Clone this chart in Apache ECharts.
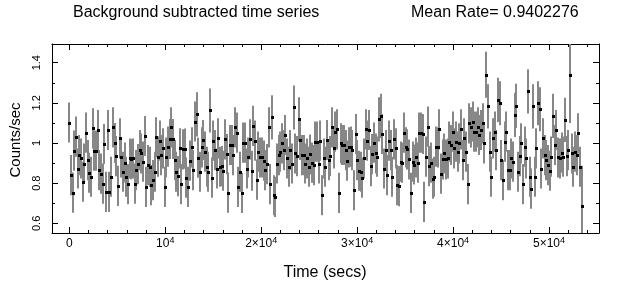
<!DOCTYPE html>
<html><head><meta charset="utf-8">
<script src="https://cdn.jsdelivr.net/npm/echarts@6/dist/echarts.min.js"></script>
<style>html,body{margin:0;padding:0;background:#fff}#c{width:627px;height:293px}</style>
</head><body><div id="c"></div>
<script>
// ---- data ----
const titleText = 'Background subtracted time series';
const meanRateText = 'Mean Rate= 0.9402276';
const xAxisTitle = 'Time (secs)';
const yAxisTitle = 'Counts/sec';
const binSize = 174.5; // seconds between consecutive bins

const rate = [
 1.102,0.84,0.753,0.962,1.032,0.873,0.94,0.923,0.807,0.898,
 1.052,0.915,0.852,0.832,1.073,0.962,0.962,1.065,0.865,0.848,
 0.798,0.995,0.757,1.065,0.757,0.832,1.078,1.0,0.935,0.787,
 1.023,0.928,0.857,0.903,0.832,0.795,0.923,0.92,0.923,0.798,
 0.865,0.895,0.965,0.948,0.907,1.035,0.782,0.89,0.882,0.79,
 0.815,0.857,1.028,0.932,1.012,0.94,0.973,0.782,0.928,0.982,
 1.02,1.078,1.02,0.915,0.857,0.835,0.973,0.795,0.968,0.972,
 0.828,0.782,0.912,0.978,0.865,1.107,1.143,0.927,0.857,
 0.978,1.015,0.957,0.882,0.857,1.162,0.828,1.012,0.965,0.873,
 1.023,0.882,0.885,0.862,1.018,0.945,0.753,0.99,0.99,0.94,
 1.078,1.052,0.782,0.857,0.752,1.002,1.002,0.873,0.928,1.018,
 0.862,1.085,1.012,0.818,0.957,0.928,0.928,0.912,0.865,0.895,
 1.078,0.795,1.128,0.74,0.732,0.898,0.94,0.957,0.998,0.965,
 1.04,0.923,0.882,0.965,0.898,1.177,0.948,0.935,1.118,1.015,
 0.94,0.94,0.898,0.923,0.882,0.943,0.902,0.89,1.007,1.007,
 0.898,1.012,0.74,0.923,0.882,1.015,0.915,
 0.935,1.078,0.973,1.057,1.068,0.752,0.998,0.99,0.99,0.965,
 0.912,0.978,0.982,0.965,0.765,1.045,0.915,0.862,0.857,0.828,
 0.923,1.068,1.012,1.065,0.885,0.945,1.002,0.948,0.932,1.118,
 1.135,1.045,0.873,0.965,0.84,1.012,0.965,0.832,1.018,0.973,
 0.79,0.785,0.907,0.902,1.052,0.978,0.968,0.918,0.752,0.907,
 0.893,0.928,0.902,1.052,1.052,1.045,0.707,0.932,1.082,0.885,
 0.902,0.823,0.832,0.982,0.978,1.068,0.848,0.918,0.948,0.918,
 0.923,1.007,0.99,1.057,0.973,1.007,0.957,
 0.998,1.068,0.915,1.023,0.957,0.795,1.098,1.078,1.107,1.057,
 1.057,1.078,1.04,1.065,1.098,0.998,1.34,1.182,0.957,0.832,
 1.023,1.057,0.965,1.215,1.198,0.915,0.815,1.007,1.057,0.865,
 0.865,0.923,0.907,1.14,1.185,0.857,0.935,0.998,0.795,0.982,
 0.923,1.257,0.832,0.773,1.182,0.832,0.973,1.198,1.168,0.873,
 1.023,0.94,0.915,0.89,0.862,0.932,1.135,0.99,1.065,0.928,
 0.923,0.952,0.932,1.115,0.935,0.965,1.34,0.948,0.882,0.957,
 0.94,1.048,0.882,0.687
];

const rateError = [
 0.1,0.1,0.1,0.1,0.1,0.1,0.1,0.1,0.1,0.1,
 0.1,0.1,0.1,0.1,0.1,0.1,0.1,0.1,0.1,0.1,
 0.1,0.1,0.1,0.1,0.1,0.1,0.1,0.1,0.1,0.1,
 0.1,0.1,0.1,0.1,0.1,0.1,0.1,0.1,0.1,0.1,
 0.1,0.1,0.1,0.1,0.1,0.1,0.1,0.1,0.1,0.1,
 0.1,0.1,0.1,0.1,0.1,0.1,0.1,0.1,0.1,0.1,
 0.1,0.1,0.1,0.1,0.1,0.1,0.1,0.1,0.1,0.1,
 0.1,0.1,0.1,0.1,0.1,0.1,0.11,0.1,0.1,
 0.1,0.1,0.1,0.1,0.1,0.11,0.1,0.1,0.1,0.1,
 0.1,0.1,0.1,0.1,0.1,0.1,0.1,0.1,0.1,0.1,
 0.1,0.1,0.1,0.1,0.1,0.1,0.1,0.1,0.1,0.1,
 0.1,0.1,0.1,0.1,0.1,0.1,0.1,0.1,0.1,0.1,
 0.1,0.1,0.11,0.1,0.1,0.1,0.1,0.1,0.1,0.1,
 0.1,0.1,0.1,0.1,0.1,0.11,0.1,0.1,0.11,0.1,
 0.1,0.1,0.1,0.1,0.1,0.1,0.1,0.1,0.1,0.1,
 0.1,0.1,0.1,0.1,0.1,0.1,0.1,
 0.1,0.1,0.1,0.1,0.1,0.1,0.1,0.1,0.1,0.1,
 0.1,0.1,0.1,0.1,0.1,0.1,0.1,0.1,0.1,0.1,
 0.1,0.1,0.1,0.1,0.1,0.1,0.1,0.1,0.1,0.11,
 0.11,0.1,0.1,0.1,0.1,0.1,0.1,0.1,0.1,0.1,
 0.1,0.1,0.1,0.1,0.1,0.1,0.1,0.1,0.1,0.1,
 0.1,0.1,0.1,0.1,0.1,0.1,0.1,0.1,0.1,0.1,
 0.1,0.1,0.1,0.1,0.1,0.1,0.1,0.1,0.1,0.1,
 0.1,0.1,0.1,0.1,0.1,0.1,0.1,
 0.1,0.1,0.1,0.1,0.1,0.1,0.1,0.1,0.1,0.1,
 0.1,0.1,0.1,0.1,0.1,0.1,0.115,0.11,0.1,0.1,
 0.1,0.1,0.1,0.11,0.11,0.1,0.1,0.1,0.1,0.1,
 0.1,0.1,0.1,0.11,0.11,0.1,0.1,0.1,0.1,0.1,
 0.1,0.11,0.1,0.1,0.11,0.1,0.1,0.11,0.11,0.1,
 0.1,0.1,0.1,0.1,0.1,0.1,0.11,0.1,0.1,0.1,
 0.1,0.1,0.1,0.11,0.1,0.1,0.24,0.1,0.1,0.1,
 0.1,0.1,0.1,0.2
];

const xRange = [-1803, 55211];
const yRange = [0.552, 1.493];
const xMajorTicks = [0, 10000, 20000, 30000, 40000, 50000];
const xTickBase = ['0', '10', '2\u00d710', '3\u00d710', '4\u00d710', '5\u00d710'];
const xTickExp  = ['', '4', '4', '4', '4', '4'];
const xMinorTicks = [2000,4000,6000,8000,12000,14000,16000,18000,22000,24000,26000,28000,
                     32000,34000,36000,38000,42000,44000,46000,48000,52000,54000];
const yMajorTicks = [0.6, 0.8, 1, 1.2, 1.4];
const yTickLabels = ['0.6', '0.8', '1', '1.2', '1.4'];
const yMinorTicks = [0.7, 0.9, 1.1, 1.3];

// ---- build ----
const FONT = "'Liberation Sans', Arial, sans-serif";
const points = rate.map((r, i) => [i * binSize, r, rateError[i]]);

function xAx(pos, ticks, len, showLine, labels) {
  return {
    type: 'value', position: pos, min: xRange[0], max: xRange[1],
    axisLine: { show: showLine, onZero: false, lineStyle: { color: '#000', width: 1 } },
    axisTick: { show: true, inside: true, length: len, customValues: ticks, lineStyle: { color: '#000', width: 1 } },
    axisLabel: labels ? {
      show: true, customValues: xMajorTicks, margin: 3, color: '#000', fontFamily: FONT,
      formatter: function (v) {
        const k = xMajorTicks.indexOf(v);
        if (k < 0) return '';
        return xTickExp[k] ? '{m|' + xTickBase[k] + '}{s|' + xTickExp[k] + '}' : '{m|' + xTickBase[k] + '}';
      },
      rich: {
        m: { fontSize: 12, fontFamily: FONT, color: '#000', lineHeight: 14, verticalAlign: 'bottom' },
        s: { fontSize: 9, fontFamily: FONT, color: '#000', lineHeight: 14, verticalAlign: 'top', padding: [0, 0, 5, 0] }
      }
    } : { show: false },
    splitLine: { show: false }, axisPointer: { show: false }
  };
}
function yAx(pos, ticks, len, showLine, labels) {
  return {
    type: 'value', position: pos, min: yRange[0], max: yRange[1],
    axisLine: { show: showLine, onZero: false, lineStyle: { color: '#000', width: 1 } },
    axisTick: { show: true, inside: true, length: len, customValues: ticks, lineStyle: { color: '#000', width: 1 } },
    axisLabel: labels ? {
      show: true, customValues: yMajorTicks, rotate: 90, margin: 10, color: '#000',
      fontFamily: FONT, fontSize: 11,
      formatter: function (v) { const k = yMajorTicks.indexOf(v); return k < 0 ? '' : yTickLabels[k]; }
    } : { show: false },
    splitLine: { show: false }, axisPointer: { show: false }
  };
}

const chart = echarts.init(document.getElementById('c'), null, { renderer: 'canvas' });
chart.setOption({
  animation: false,
  backgroundColor: '#fff',
  grid: { left: 52, right: 28, top: 44, bottom: 60, containLabel: false },
  xAxis: [
    xAx('bottom', xMajorTicks, 6, true, true),
    xAx('bottom', xMinorTicks, 3, false, false),
    xAx('top', xMajorTicks, 6, true, false),
    xAx('top', xMinorTicks, 3, false, false)
  ],
  yAxis: [
    yAx('left', yMajorTicks, 6, true, true),
    yAx('left', yMinorTicks, 3, false, false),
    yAx('right', yMajorTicks, 6, true, false),
    yAx('right', yMinorTicks, 3, false, false)
  ],
  series: [
    {
      type: 'custom', name: 'error', xAxisIndex: 0, yAxisIndex: 0,
      data: points, encode: { x: 0, y: 1 }, silent: true,
      renderItem: function (params, api) {
        const x = api.value(0), y = api.value(1), e = api.value(2);
        const cs = params.coordSys;
        const a = api.coord([x, y + e]), b = api.coord([x, y - e]);
        const px = Math.round(a[0]);
        const y1 = Math.max(cs.y, a[1]), y2 = Math.min(cs.y + cs.height, b[1]);
        return { type: 'line', shape: { x1: px, y1: y1, x2: px, y2: y2 },
                 style: { stroke: '#878787', lineWidth: 2 } };
      }
    },
    {
      type: 'custom', name: 'rate', xAxisIndex: 0, yAxisIndex: 0,
      data: points, encode: { x: 0, y: 1 }, silent: true, z: 3,
      renderItem: function (params, api) {
        const p = api.coord([api.value(0), api.value(1)]);
        const px = Math.round(p[0]), py = Math.round(p[1]);
        return { type: 'rect', shape: { x: px - 1, y: py - 1, width: 3, height: 3 },
                 style: { fill: '#000' } };
      }
    }
  ],
  graphic: [
    { type: 'text', left: 73, top: 5, style: { text: titleText, font: '16px ' + FONT, fill: '#000' } },
    { type: 'text', left: 411, top: 5, style: { text: meanRateText, font: '16px ' + FONT, fill: '#000' } },
    { type: 'text', x: 325, y: 273, style: { text: xAxisTitle, font: '16px ' + FONT, fill: '#000', align: 'center', verticalAlign: 'middle' } },
    { type: 'text', x: 16, y: 140, rotation: Math.PI / 2, style: { text: yAxisTitle, font: '15px ' + FONT, fill: '#000', align: 'center', verticalAlign: 'middle' } }
  ]
});
</script></body></html>
